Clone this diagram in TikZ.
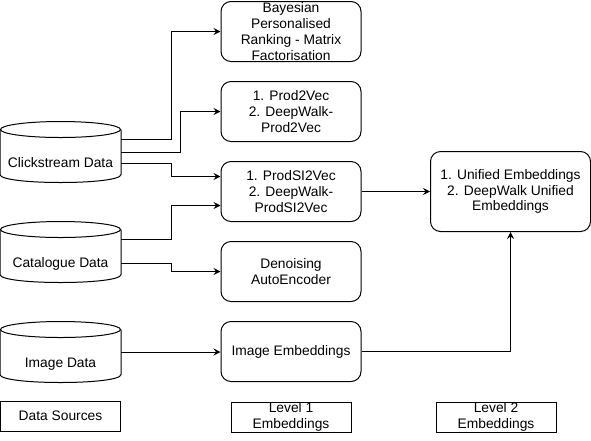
\documentclass[tikz,border=0pt]{standalone}
\usepackage{fontspec}
\setmainfont{Liberation Sans}
\usetikzlibrary{arrows.meta,calc}
\begin{document}
\begin{tikzpicture}[x=1pt,y=-1pt,line width=1pt,
  every node/.style={font=\fontsize{13.8}{15.8}\selectfont},
  db/.style={minimum width=120pt,minimum height=60pt,inner sep=0pt,text height=30pt,text depth=0pt},
  rbox/.style={draw,rounded corners=10pt,minimum width=140pt,minimum height=60pt,align=center,inner sep=0pt},
  ubox/.style={draw,rounded corners=10pt,minimum width=160pt,minimum height=80pt,align=center,inner sep=0pt},
  lbl/.style={draw,minimum width=120pt,minimum height=30pt,align=center,inner sep=0pt},
  arr/.style={-{Stealth[length=7pt,width=7pt,inset=2.5pt]}}]
\useasboundingbox (0,0) rectangle (591,440);

% data sources
\node[db] (cs) at (60.5,152) {Clickstream Data};
\node[db] (cat) at (60.5,252) {Catalogue Data};
\node[db] (img) at (60.5,352) {Image Data};
\foreach \n in {cs,cat,img}{
  \draw ($(\n.north west)+(0,8)$) -- ($(\n.south west)+(0,-8)$)
     .. controls +(0,10.67) and +(0,10.67) .. ($(\n.south east)+(0,-8)$)
     -- ($(\n.north east)+(0,8)$);
  \draw ($(\n.north)+(0,8)$) ellipse [x radius=60pt,y radius=8pt];
}

% level 1
\node[rbox] (b1) at (291,31.5) {Bayesian\\Personalised\\Ranking - Matrix\\Factorisation};
\node[rbox] (b2) at (291,111.5) {1. Prod2Vec\\2. DeepWalk-\\Prod2Vec};
\node[rbox] (b3) at (291,191.5) {1. ProdSI2Vec\\2. DeepWalk-\\ProdSI2Vec};
\node[rbox] (b4) at (291,271.5) {Denoising\\AutoEncoder};
\node[rbox] (b5) at (291,351.5) {Image Embeddings};

% level 2
\node[ubox] (uni) at (510.5,191.5) {1. Unified Embeddings\\2. DeepWalk Unified\\Embeddings};

% labels
\node[lbl] (l0) at (60.5,416) {Data Sources};
\node[lbl] (l1) at (291,417) {Level 1\\Embeddings};
\node[lbl] (l2) at (496,417) {Level 2\\Embeddings};

% connectors
\draw[arr] ($(cs.east)+(0,-13)$) -- ++(50.5,0) |- (b1.west);
\draw[arr] (cs.east) -- ++(59.5,0) |- (b2.west);
\draw[arr] ($(cs.east)+(0,11)$) -- ++(50.5,0) |- ($(b3.west)+(0,-15)$);
\draw[arr] ($(cat.east)+(0,-13)$) -- ++(50.5,0) |- ($(b3.west)+(0,14)$);
\draw[arr] ($(cat.east)+(0,11)$) -- ++(50.5,0) |- (b4.west);
\draw[arr] (img.east) -- (img.east -| b5.west);
\draw[arr] (b3.east) -- (uni.west);
\draw[arr] (b5.east) -| (uni.south);
\end{tikzpicture}
\end{document}
